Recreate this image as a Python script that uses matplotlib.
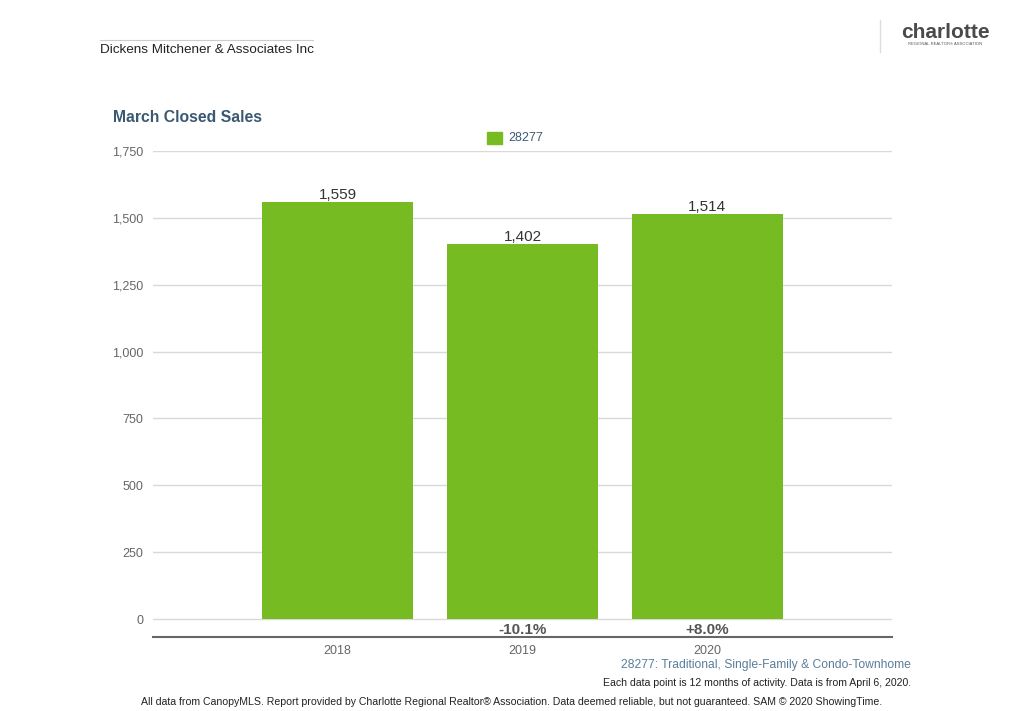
import numpy as np
import matplotlib.pyplot as plt

plt.rcParams['font.family'] = ['Liberation Sans', 'DejaVu Sans']

years = ['2018', '2019', '2020']
sales = [1559, 1402, 1514]
changes = ['', '-10.1%', '+8.0%']
yticks = [0, 250, 500, 750, 1000, 1250, 1500, 1750]

green = '#77bb22'
title_blue = '#3b5873'

fig = plt.figure(figsize=(10.24, 7.11), dpi=100)
ax = fig.add_axes([153/1024, 74/711, 739/1024, 486/711])

x = np.arange(len(years))
ax.bar(x, sales, width=0.82, color=green, zorder=3)

for xi, v in zip(x, sales):
    ax.text(xi, v + 2, f'{v:,}', ha='center', va='bottom', fontsize=11, color='#333333')
for xi, c in zip(x, changes):
    if c:
        ax.text(xi, -42, c, ha='center', va='center', fontsize=11, fontweight='bold', color='#555555')

ax.set_xlim(-1, 3)
ax.set_ylim(-67, 1750)
ax.set_yticks(yticks)
ax.set_yticklabels([f'{t:,}' for t in yticks])
ax.set_xticks(x)
ax.set_xticklabels(years)
ax.tick_params(axis='both', length=0, labelsize=9, colors='#666666')
ax.tick_params(axis='y', pad=7)
ax.tick_params(axis='x', pad=6)
ax.grid(axis='y', color='#d9d9d9', linewidth=1, zorder=0)
for s in ['top', 'left', 'right']:
    ax.spines[s].set_visible(False)
ax.spines['bottom'].set_color('#666666')
ax.spines['bottom'].set_linewidth(1.5)

# legend
fig.patches.append(plt.Rectangle((487/1024, 1 - 144/711), 15/1024, 12/711,
                                 transform=fig.transFigure, color=green))
fig.text(508/1024, 1 - 138/711, '28277', fontsize=9, color='#3b5a78', va='center')

fig.text(113/1024, 1 - 118/711, 'March Closed Sales', fontsize=11.3, fontweight='bold',
         color=title_blue, va='center')

# header
fig.add_artist(plt.Line2D([100/1024, 313/1024], [1 - 40/711] * 2, color='#cccccc', linewidth=0.8))
fig.text(100/1024, 1 - 50/711, 'Dickens Mitchener & Associates Inc', fontsize=9.7,
         color='#222222', va='center')
fig.add_artist(plt.Line2D([880/1024] * 2, [1 - 20/711, 1 - 52/711], color='#dddddd', linewidth=1))
fig.text(945/1024, 1 - 33/711, 'charlotte', fontsize=15, color='#4a4a4a', ha='center',
         va='center', fontweight='bold')
fig.text(945/1024, 1 - 44/711, 'REGIONAL REALTOR® ASSOCIATION', fontsize=3, color='#555555',
         ha='center', va='center')

# footer
fig.text(911/1024, 1 - 665/711, '28277: Traditional, Single-Family & Condo-Townhome',
         fontsize=8.7, color='#5a7f9a', ha='right', va='center')
fig.text(911/1024, 1 - 683/711, 'Each data point is 12 months of activity. Data is from April 6, 2020.',
         fontsize=7.6, color='#222222', ha='right', va='center')
fig.text(512/1024, 1 - 702/711,
         'All data from CanopyMLS. Report provided by Charlotte Regional Realtor® Association. '
         'Data deemed reliable, but not guaranteed. SAM © 2020 ShowingTime.',
         fontsize=7.55, color='#222222', ha='center', va='center')

fig.savefig('out.png', dpi=100)
